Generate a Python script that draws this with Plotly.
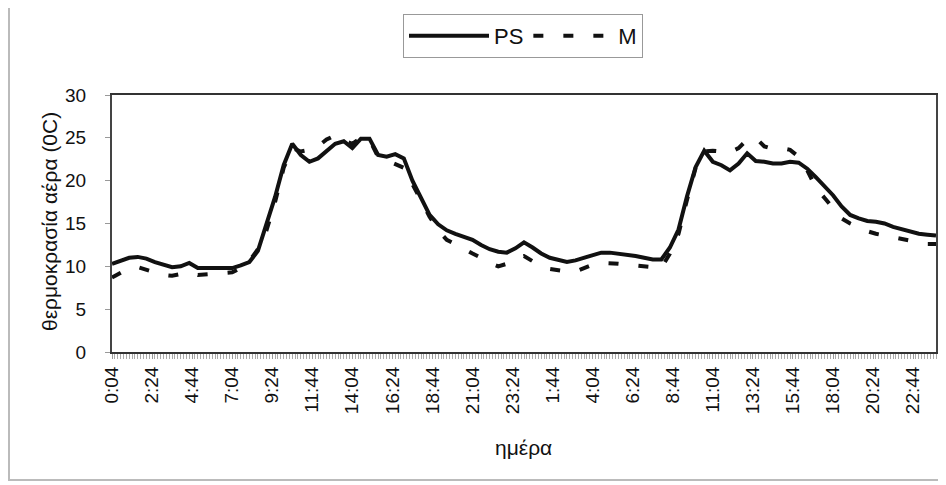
import plotly.graph_objects as go

# time axis: minutes elapsed since 0:04 of day 1 (readings every 30 min over two days)
STEP_MIN = 30
TICK_LABELS = ["0:04", "2:24", "4:44", "7:04", "9:24", "11:44", "14:04", "16:24",
               "18:44", "21:04", "23:24", "1:44", "4:04", "6:24", "8:44", "11:04",
               "13:24", "15:44", "18:04", "20:24", "22:44"]
TICK_STEP_MIN = 140

PS = [10.3, 10.7, 11.0, 11.1, 10.9, 10.5, 10.2, 9.9, 10.0, 10.4,
      9.8, 9.8, 9.8, 9.8, 9.8, 10.1, 10.5, 11.8, 14.8, 18.1,
      21.8, 24.3, 23.0, 22.2, 22.6, 23.5, 24.3, 24.6, 23.8, 24.9,
      24.9, 23.0, 22.8, 23.1, 22.6, 20.0, 17.9, 16.0, 14.9, 14.2,
      13.8, 13.5, 13.1, 12.5, 12.0, 11.7, 11.6, 12.1, 12.8, 12.2,
      11.5, 11.0, 10.7, 10.5, 10.7, 11.0, 11.3, 11.6, 11.6, 11.5,
      11.4, 11.2, 11.0, 10.8, 10.8, 12.2, 14.3, 18.2, 21.6, 23.5,
      22.2, 21.8, 21.2, 22.0, 23.2, 22.3, 22.2, 22.0, 22.0, 22.2,
      22.1, 21.4, 20.4, 19.4, 18.3, 17.0, 16.0, 15.6, 15.3, 15.2,
      15.0, 14.6, 14.3, 14.0, 13.8, 13.7, 13.6]

M = [8.7, 9.2, 9.8, 9.9, 9.6, 9.3, 9.0, 8.9, 9.1, 9.3,
     9.0, 9.1, 9.2, 9.2, 9.3, 9.8, 10.6, 12.0, 14.2, 17.5,
     21.5, 23.8, 23.4, 23.6, 24.0, 24.8, 25.3, 24.7, 24.3, 25.0,
     24.8, 22.8, 22.4, 22.0, 21.5, 19.6, 17.6, 15.8, 14.2, 13.1,
     12.6, 12.0, 11.5, 11.0, 10.4, 10.0, 10.3, 10.9, 11.2, 10.6,
     10.0, 9.7, 9.5, 9.4, 9.4, 9.8, 10.2, 10.4, 10.4, 10.3,
     10.2, 10.1, 9.9, 9.8, 9.8, 11.5, 13.8, 17.8, 21.5, 23.4,
     23.5, 23.4, 23.3, 23.8, 24.8, 25.0, 24.0, 23.7, 23.8, 23.6,
     22.8, 21.2, 19.2, 18.0, 16.8, 15.6, 15.0, 14.5, 14.1, 13.8,
     13.6, 13.4, 13.2, 13.0, 12.8, 12.6, 12.6]

minutes = [STEP_MIN * i for i in range(len(PS))]
tickvals = [TICK_STEP_MIN * i for i in range(len(TICK_LABELS))]

FONT = "Liberation Sans, Arial, sans-serif"

fig = go.Figure()
fig.add_trace(go.Scatter(x=minutes, y=M, mode="lines", name="M",
                         line=dict(color="#111111", width=4, dash="10px,20px"),
                         legendrank=2))
fig.add_trace(go.Scatter(x=minutes, y=PS, mode="lines", name="PS",
                         line=dict(color="#111111", width=4), legendrank=1))

OFF = 8  # page body margin
W, H = 946 - OFF, 485 - OFF
L, R, T, B = 112 - OFF, 10, 95 - OFF, 133
pw, ph = W - L - R, H - T - B

def px_x(x):
    return (x - OFF - L) / pw

def px_y(y):
    return (H - B - (y - OFF)) / ph

fig.update_layout(
    width=W, height=H,
    margin=dict(l=L, r=R, t=T, b=B, autoexpand=False),
    paper_bgcolor="white", plot_bgcolor="white",
    font=dict(family=FONT, color="#111111", size=19),
    showlegend=True,
    legend=dict(orientation="h", x=px_x(523), xanchor="center", y=px_y(14), yanchor="top",
                bordercolor="#999999", borderwidth=1, bgcolor="white",
                font=dict(size=22), itemwidth=80, tracegroupgap=0),
    xaxis=dict(range=[0, TICK_STEP_MIN * 20 + 80], tickmode="array", tickvals=tickvals,
               ticktext=TICK_LABELS, tickangle=-90, ticks="outside", ticklen=5,
               tickcolor="#999999", showgrid=False, zeroline=False,
               showline=True, linecolor="#333333", linewidth=2, mirror=True,
               ticklabelstandoff=0, tickfont=dict(size=19),
               minor=dict(dtick=10, tick0=0, ticks="outside", ticklen=5, tickcolor="#aaaaaa")),
    yaxis=dict(range=[0, 30], tickmode="array", tickvals=[0, 5, 10, 15, 20, 25, 30],
               ticks="outside", ticklen=5, tickcolor="#999999", showgrid=False,
               zeroline=False, showline=True, linecolor="#444444", linewidth=2, mirror=True,
               ticklabelstandoff=15, tickfont=dict(size=19)),
    annotations=[
        dict(text="θερμοκρασία αέρα (0C)", xref="paper", yref="paper",
             x=px_x(49), y=px_y(222), textangle=-90, showarrow=False,
             xanchor="center", yanchor="middle", font=dict(size=21)),
        dict(text="ημέρα", xref="paper", yref="paper", x=px_x(523), y=px_y(447),
             showarrow=False, xanchor="center", yanchor="middle", font=dict(size=21)),
    ],
    shapes=[
        dict(type="rect", xref="paper", yref="paper", x0=px_x(9), x1=px_x(941),
             y0=px_y(480), y1=px_y(6), line=dict(color="#bbbbbb", width=2), layer="below"),
    ],
)

fig.write_html("out.html")
